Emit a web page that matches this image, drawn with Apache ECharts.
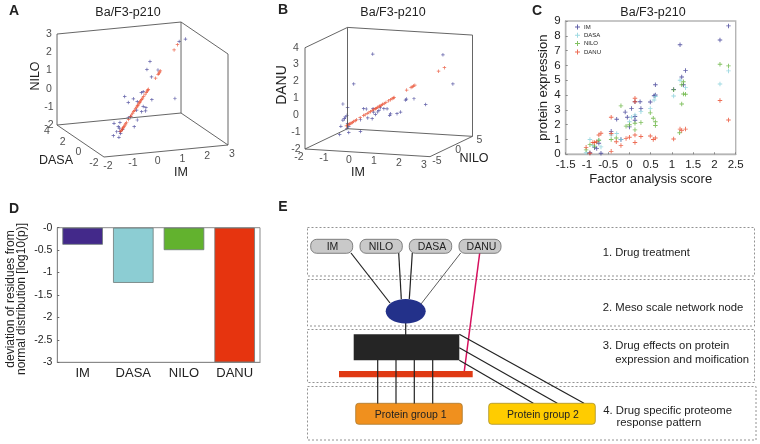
<!DOCTYPE html>
<html><head><meta charset="utf-8"><style>html,body{margin:0;padding:0;background:#fff}#c{width:760px;height:444px}</style>
<script src="https://cdn.jsdelivr.net/npm/echarts@6/dist/echarts.min.js"></script></head>
<body><div id="c"></div><script>
// ---- data ----
const drugs = ['IM','DASA','NILO','DANU'];
const residueDeviation = [-0.38,-1.23,-0.5,-3];
const factorScores = [-1.02,-0.98,-0.93,-0.9,-0.86,-0.82,-0.77,-0.72,-0.67,-0.55,-0.43,-0.38,-0.31,-0.25,-0.2,-0.14,-0.08,-0.03,0,0.05,0.1,0.13,0.17,0.22,0.27,0.33,0.42,0.49,0.54,0.58,0.61,1.04,1.19,1.23,1.27,1.32,2.13,2.33];
// panel A measured points [IM, DASA, NILO]
const pointsA = [[2.8,2.8,2.44],[2.43,2.43,2.46],[0.71,0.71,2.09],[0.53,0.53,1.73],[1.18,1.18,1.43],[0.8,0.8,1.21],[2.18,2.18,-0.56],[-0.78,-0.78,0.81],[0.82,0.82,-0.05],[-0.27,-0.27,0.46],[-0.57,-0.57,0.39],[-0.04,-0.04,0.21],[0.31,0.31,0.61],[0.2,0.2,0.6],[-0.08,-0.08,-0.24],[0.31,0.31,-0.21],[0.47,0.47,-0.34],[0.22,0.22,-0.45],[0.45,0.45,-0.51],[-0.43,-0.43,-0.45],[-0.04,-0.04,-0.8],[-0.22,-0.22,-1.09],[-1.41,-1.41,-0.4],[-1.06,-1.06,-0.5],[-1.16,-1.16,-0.69],[-1.1,-1.1,-0.8],[-0.9,-0.9,-0.95],[-1.25,-1.25,-0.93],[-1.45,-1.45,-1.06],[-1.12,-1.12,-1.29],[-1.02,-1.02,-1.12],[-1.06,-1.06,-1.01],[-0.57,-0.57,-0.45]];
// panel B measured points [IM, NILO, DANU]
const pointsB = [[-0.12,-0.12,3.21],[2.28,2.28,3.09],[2.62,2.62,1.36],[-0.77,-0.77,1.46],[1.69,1.69,0.17],[-1.14,-1.14,0.28],[-0.98,-0.98,0.06],[1.29,1.29,0.52],[1.03,1.03,0.51],[1,1,0.45],[-0.43,-0.43,-0.02],[-0.34,-0.34,-0.04],[-0.11,-0.11,-0.03],[0.14,0.14,0.02],[0.26,0.26,-0.04],[0.37,0.37,-0.05],[-0.09,-0.09,-0.23],[0.05,0.05,-0.23],[0.09,0.09,-0.13],[-0.03,-0.03,-0.37],[-0.14,-0.14,-0.62],[-0.29,-0.29,-0.57],[0.49,0.49,-0.35],[0.46,0.46,-0.44],[0.71,0.71,-0.35],[0.83,0.83,-0.26],[-0.54,-0.54,-0.67],[-1,-1,-0.39],[-1.06,-1.06,-0.49],[-1.09,-1.09,-0.59],[-1.14,-1.14,-0.68],[-0.98,-0.98,-0.89],[-1.21,-1.21,-1.04],[-0.94,-0.94,-1.05],[-1,-1,-1.18],[-1.25,-1.25,-1.53],[-0.94,-0.94,-1.42],[-0.54,-0.54,-1.36]];
// panel C [score, expression]
const exprIM = [[2.33,8.67],[2.13,7.72],[1.19,7.4],[1.32,5.65],[1.23,5.22],[1.27,4.7],[1.04,4.38],[0.61,4.7],[0.61,4],[0.58,3.95],[0.49,3.53],[0.27,3.1],[0.25,3.55],[0.13,3.55],[0.13,2.55],[0.05,3.1],[-0.1,2.85],[-0.3,2.37],[-0.05,2.5],[0,1.85],[-0.43,1.55],[-0.2,1],[-0.72,0.75],[-0.77,0.4],[-0.67,0.07],[-0.93,0.1],[-0.82,0.45],[0.13,2.3]];
const exprDASA = [[2.33,5.63],[2.13,4.75],[1.19,5],[1.32,4.5],[1.04,3.94],[0.49,3.1],[0.58,3.67],[0.61,3.9],[0.27,2.88],[0.13,2.66],[0.05,2.5],[-0.3,1.4],[-0.43,1.3],[-0.2,1],[-0.77,0.8],[-0.93,1],[-0.86,0.6],[-1.02,0.1],[-0.67,0.5],[-0.72,0.95],[0,2.2]];
const exprNILO = [[2.33,5.97],[2.13,6.08],[1.27,4.9],[1.23,4.7],[1.27,4.07],[1.32,4.05],[1.23,3.4],[1.04,4.35],[-0.2,3.27],[0.49,2.8],[0.56,2.43],[0.61,2.2],[0.61,1.94],[0.27,2.14],[0.13,2.1],[0.13,1.65],[0,2],[-0.08,1.9],[-0.43,1],[-0.31,1.1],[-1.02,0.3],[-0.93,0.65],[-0.72,0.95],[1.18,1.46],[-0.82,0.55]];
const exprDANU = [[2.33,2.32],[2.13,3.63],[1.32,1.7],[1.23,1.6],[1.19,1.7],[1.04,1.03],[0.61,1.1],[0.56,1],[0.49,1.24],[0.27,1.2],[0.13,1.3],[0.13,0.8],[0.13,3.78],[0.13,3.55],[0,1.15],[-0.08,1.06],[-0.2,0.6],[-0.31,0.85],[-0.43,2.5],[-0.43,1.4],[-0.43,0.2],[-0.67,1.42],[-0.72,1.3],[-0.77,0.85],[-0.82,0.8],[-0.86,0.8],[-0.93,0.07],[-1.02,0.47]];
const ticksIM = [-2,-1,0,1,2,3];
const ticksDASA = [-2,0,2,4];
const ticksNILOa = [-2,-1,0,1,2,3];
const ticksNILOb = [-5,0,5];
const ticksDANU = [-2,-1,0,1,2,3,4];

// ---- style ----
const FF = '"Liberation Sans", Arial, sans-serif';
const COL = {IM:'#3b3a94',DASA:'#86cfd9',NILO:'#63b23a',DANU:'#e8492a'};
const BAR = ['#43298a','#8ccdd3','#62b22e','#e6340f'];
const PLUS = 'path://M4 0H6V4H10V6H6V10H4V6H0V4H4Z';
const TXT = '#222';

// oblique projections of the two 3-D boxes
const viewA = {o:[104,157], a:[24.8,-2.4], b:[-7.83,-5.33], c:[0,-18.2], min:[-2,-2,-2]};
const viewB = {o:[305,149], a:[25,1.53], b:[4.25,-2.03], c:[0,-16.88], min:[-2,-5,-2]};
const proj = (v,p)=>{const d=[p[0]-v.min[0],p[1]-v.min[1],p[2]-v.min[2]];
  return [v.o[0]+v.a[0]*d[0]+v.b[0]*d[1]+v.c[0]*d[2], v.o[1]+v.a[1]*d[0]+v.b[1]*d[1]+v.c[1]*d[2]];};

const boxA = [[[-2,4,3],[-2,4,-2],[-2,-2,-2],[3,-2,-2],[3,4,-2],[-2,4,-2]],[[-2,4,3],[3,4,3],[3,-2,3],[3,-2,-2]],[[3,4,3],[3,4,-2]]];
const boxB = [[[-2,-5,4],[-2,-5,-2],[3,-5,-2],[3,5,-2],[-2,5,-2],[-2,-5,-2]],[[-2,-5,4],[-2,5,4],[3,5,4],[3,5,-2]],[[-2,5,4],[-2,5,-2]]];

const series = [];
function box(v,paths){paths.forEach(p=>series.push({type:'line',xAxisIndex:0,yAxisIndex:0,silent:true,symbol:'none',
  lineStyle:{color:'#555',width:0.9},data:p.map(c=>proj(v,c))}));}
function pts(v,list,color,size){series.push({type:'scatter',xAxisIndex:0,yAxisIndex:0,symbol:PLUS,symbolSize:size,
  itemStyle:{color},data:list.map(c=>proj(v,c))});}
function tickLabels(v,items,dx,dy,size){series.push({type:'scatter',xAxisIndex:0,yAxisIndex:0,symbolSize:0,silent:true,
  data:items.map(it=>{const q=proj(v,it.p);return {value:[q[0]+dx,q[1]+dy],label:{show:true,position:'inside',formatter:String(it.t),
    fontFamily:FF,fontSize:size,color:TXT}};})});}

box(viewA,boxA);
pts(viewA,pointsA,COL.IM,3.5);
pts(viewA,factorScores.map(t=>[t,t,t]),COL.DANU,3.5);
tickLabels(viewA,ticksNILOa.map(t=>({p:[-2,4,t],t})),-8,0,10.5);
tickLabels(viewA,ticksDASA.map(t=>({p:[-2,t,-2],t})),-10,6,10.5);
tickLabels(viewA,ticksIM.map(t=>({p:[t,-2,-2],t})),4,9,10.5);

box(viewB,boxB);
pts(viewB,pointsB,COL.IM,3.5);
pts(viewB,factorScores.map(t=>[t,t,t]),COL.DANU,3.5);
tickLabels(viewB,ticksDANU.map(t=>({p:[-2,-5,t],t})),-9,0,10.5);
tickLabels(viewB,ticksIM.map(t=>({p:[t,-5,-2],t})),-6,8,10.5);
tickLabels(viewB,ticksNILOb.map(t=>({p:[3,t,-2],t})),7,4,10.5);

[['IM',exprIM],['DASA',exprDASA],['NILO',exprNILO],['DANU',exprDANU]].forEach(([n,d])=>series.push({
  name:n,type:'scatter',xAxisIndex:1,yAxisIndex:1,symbol:PLUS,symbolSize:4.5,itemStyle:{color:COL[n]},data:d}));

series.push({type:'bar',xAxisIndex:2,yAxisIndex:2,barWidth:'80%',
  itemStyle:{borderColor:'#6f7a78',borderWidth:0.8},
  data:residueDeviation.map((v,i)=>({value:v,itemStyle:{color:BAR[i]}}))});

// ---- graphic helpers ----
const T=(text,x,y,size,o={})=>({type:'text',x:o.rot?x+0.8:x,y:o.rot?y:y+0.8,rotation:o.rot||0,silent:true,z:10,style:{text,fill:o.fill||TXT,
  font:`${o.bold?'bold ':''}${size}px ${FF}`,textAlign:o.align||'center',textVerticalAlign:'middle',align:o.align||'center',verticalAlign:'middle'}});
const L=(x1,y1,x2,y2,stroke='#222',w=1.2)=>({type:'line',silent:true,z:4,shape:{x1,y1,x2,y2},style:{stroke,lineWidth:w}});
const R=(x,y,w,h,fill,stroke,r=0,z=5,extra={})=>({type:'rect',silent:true,z,shape:{x,y,width:w,height:h,r},style:Object.assign({fill,stroke,lineWidth:stroke?0.8:0},extra)});
const dash={lineDash:[2,2]};

const graphic=[
  T('A',14,10,14,{bold:1}),T('B',283,9,14,{bold:1}),T('C',537,10,14,{bold:1}),T('D',14,208,14,{bold:1}),T('E',283,206,14,{bold:1}),
  T('Ba/F3-p210',128,12,12.5),T('Ba/F3-p210',393,12,12.5),T('Ba/F3-p210',653,12,12.5),
  T('NILO',35,76,12.5,{rot:Math.PI/2}),T('DASA',56,160,12.5),T('IM',181,172,12.5),
  T('DANU',281,85,14,{rot:Math.PI/2}),T('IM',358,172,12.5),T('NILO',474,158,12.5),
  // panel E frames
  R(307.5,227.5,447,48.5,null,'#777',0,1,dash),R(307.5,279.5,447,46.5,null,'#777',0,1,dash),
  R(307.5,329.5,447,53,null,'#777',0,1,dash),R(307.5,386.5,448.5,53.5,null,'#777',0,1,dash),
  // connectors
  L(351,253,390,303),L(398.7,253,401.3,299),L(412.3,253,409.3,299),L(460.7,253,421,304,'#333',0.8),
  L(405.7,323,405.7,335),L(479.7,253,464.3,371,'#d6105e',1.5),
  L(459.3,334.3,584,403.3),L(459.3,347.7,557.3,403.3),L(459.3,360.3,533.3,403.3),
  // shapes
  {type:'ellipse',silent:true,z:5,shape:{cx:405.7,cy:311.3,rx:20,ry:12.3},style:{fill:'#23318a'}},
  R(353.7,334.3,105.6,26,'#252525',null),
  R(339,371,133.7,6.3,'#e03a14',null),
  Object.assign(L(377.7,360,377.7,403.5),{z:6}),Object.assign(L(396,360,396,403.5),{z:6}),
  Object.assign(L(414.3,360,414.3,403.5),{z:6}),Object.assign(L(432.7,360,432.7,403.5),{z:6}),
  R(355.7,403.3,106.6,21,'#f0901e','#a87a30',3),R(488.7,403.3,106.6,21,'#ffcc00','#a8902a',3),
  T('Protein group 1',410.7,414,10.5),T('Protein group 2',543,414,10.5),
  R(310.7,239.3,42,14,'#c9c9c9','#666',6),R(360,239.3,42.3,14,'#c9c9c9','#666',6),
  R(409.3,239.3,42.4,14,'#c9c9c9','#666',6),R(459,239.3,42,14,'#c9c9c9','#666',6),
  T('IM',332.5,246.5,10.5),T('NILO',381,246.5,10.5),T('DASA',432,246.5,10.5),T('DANU',481.5,246.5,10.5),
  T('1. Drug treatment',602.7,251.7,11.2,{align:'left'}),T('2. Meso scale network node',602.7,306.7,11.3,{align:'left'}),
  T('3. Drug effects on protein',602.7,345.3,11.3,{align:'left'}),T('expression and moification',615.3,358.7,11.3,{align:'left'}),
  T('4. Drug specific proteome',603.3,410,11.3,{align:'left'}),T('response pattern',616.5,422.3,11.3,{align:'left'})
];

const axisText={fontFamily:FF,color:TXT};
const option={
  animation:false,backgroundColor:'#fff',textStyle:{fontFamily:FF},
  legend:{data:drugs,orient:'vertical',left:570,top:19,padding:5,itemWidth:5,itemHeight:5,itemGap:2.3,icon:PLUS,
    textStyle:{fontFamily:FF,fontSize:6,color:TXT,padding:[0,0,0,-1]}},
  grid:[
    {left:0,top:0,width:760,height:444,show:false},
    {left:565.7,top:21,width:170,height:133.3,show:true,borderColor:'#b5b5b5',borderWidth:1.4},
    {left:57.3,top:227.7,width:202.7,height:134.6,show:true,borderColor:'#8a8a8a',borderWidth:1}
  ],
  xAxis:[
    {type:'value',gridIndex:0,min:0,max:760,show:false},
    {type:'value',gridIndex:1,min:-1.5,max:2.5,interval:0.5,splitLine:{show:false},
      axisLine:{onZero:false,lineStyle:{color:'#b5b5b5',width:1.4}},axisTick:{inside:true,length:2,lineStyle:{color:'#888'}},
      axisLabel:{...axisText,fontSize:11.5,margin:5,hideOverlap:false},
      name:'Factor analysis score',nameLocation:'middle',nameGap:19,nameTextStyle:{...axisText,fontSize:13}},
    {type:'category',gridIndex:2,data:drugs,
      axisLine:{onZero:false,lineStyle:{color:'#8a8a8a'}},axisTick:{alignWithLabel:true,inside:true,length:2,lineStyle:{color:'#666'}},
      axisLabel:{...axisText,fontSize:13,margin:5}}
  ],
  yAxis:[
    {type:'value',gridIndex:0,min:0,max:444,inverse:true,show:false},
    {type:'value',gridIndex:1,min:0,max:9,interval:1,splitLine:{show:false},
      axisLine:{onZero:false,lineStyle:{color:'#b5b5b5',width:1.4}},axisTick:{inside:true,length:2,lineStyle:{color:'#888'}},
      axisLabel:{...axisText,fontSize:11.5,margin:5},
      name:'protein expression',nameLocation:'middle',nameGap:15,nameRotate:90,nameTextStyle:{...axisText,fontSize:13}},
    {type:'value',gridIndex:2,min:-3,max:0,interval:0.5,splitLine:{show:false},
      axisLine:{show:true,onZero:false,lineStyle:{color:'#8a8a8a'}},axisTick:{show:true,inside:true,length:2,lineStyle:{color:'#666'}},
      axisLabel:{...axisText,fontSize:10.5,margin:5,formatter:v=>v===0?'-0':String(v)},
      name:'deviation of residues from\nnormal distribution [log10(p)]',nameLocation:'middle',nameGap:30,nameRotate:90,
      nameTextStyle:{...axisText,fontSize:12,lineHeight:11,padding:[0,8,0,0]}}
  ],
  series,graphic
};
echarts.init(document.getElementById('c'),null,{renderer:'canvas'}).setOption(option);
</script></body></html>
